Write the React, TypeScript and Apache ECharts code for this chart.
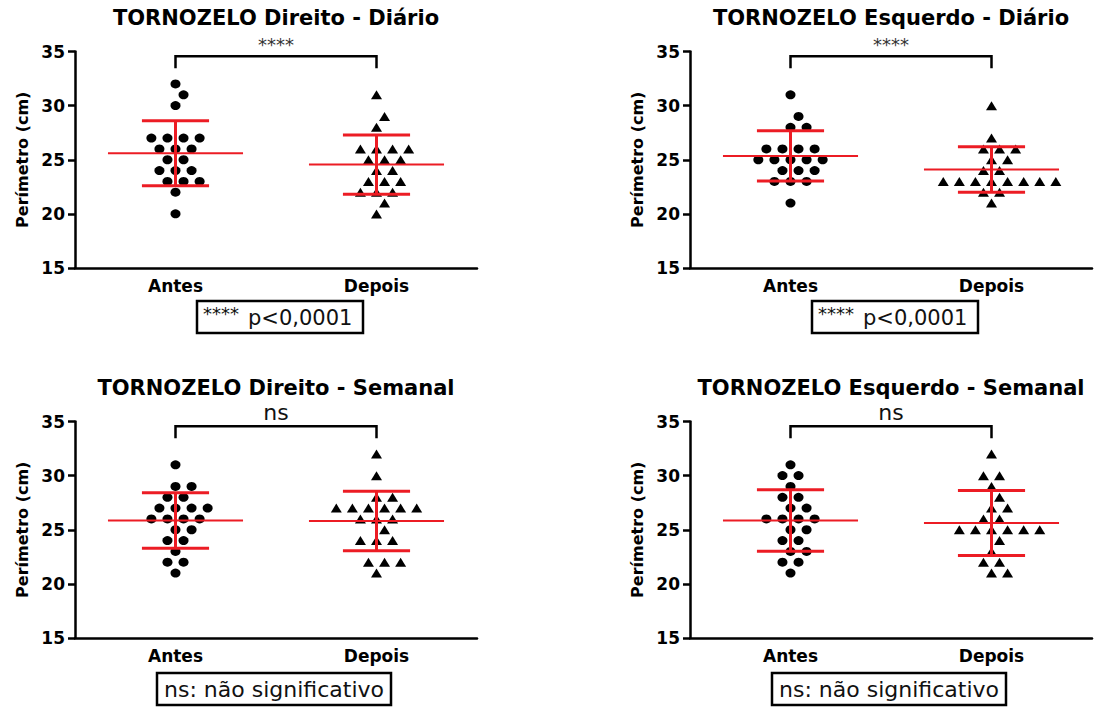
import React, { useEffect, useRef } from "react";
import * as echarts from "echarts";

// ---------- data ----------
const groups = ["Antes", "Depois"];
const yTicks = { min: 15, max: 35, step: 5 };

const direitoDiarioAntes = [32, 31, 30, 27, 27, 27, 27, 26, 26, 26, 25, 25, 24, 24, 24, 23, 23, 23, 22, 20];
const direitoDiarioDepois = [31, 29, 28, 26, 26, 26, 26, 25, 25, 25, 24, 24, 23, 23, 23, 22, 22, 22, 21, 20];
const esquerdoDiarioAntes = [31, 29, 28, 28, 26, 26, 26, 26, 25, 25, 25, 25, 25, 24, 24, 24, 23, 23, 23, 21];
const esquerdoDiarioDepois = [30, 27, 26, 26, 26, 25, 25, 24, 24, 23, 23, 23, 23, 23, 23, 23, 23, 22, 22, 21];
const direitoSemanalAntes = [31, 29, 29, 28, 28, 27, 27, 27, 27, 26, 26, 26, 26, 25, 25, 24, 24, 23, 22, 22, 21];
const direitoSemanalDepois = [32, 30, 28, 28, 27, 27, 27, 27, 27, 27, 26, 26, 26, 25, 24, 24, 24, 22, 22, 22, 21];
const esquerdoSemanalAntes = [31, 30, 30, 29, 28, 28, 27, 27, 26, 26, 26, 26, 25, 25, 24, 24, 23, 23, 22, 22, 21];
const esquerdoSemanalDepois = [32, 30, 30, 29, 28, 27, 27, 26, 26, 25, 25, 25, 25, 25, 25, 24, 23, 22, 22, 21, 21];

const titles = [
  "TORNOZELO Direito - Diário",
  "TORNOZELO Esquerdo - Diário",
  "TORNOZELO Direito - Semanal",
  "TORNOZELO Esquerdo - Semanal",
];
const statLabels = ["****", "****", "ns", "ns"];
const yAxisName = "Perímetro (cm)";
const footSig = ["****", "p<0,0001"];
const footNs = "ns: não significativo";

// ---------- layout / style ----------
const FONT = "'DejaVu Sans', 'Liberation Sans', sans-serif";
const RED = "#ec1c24";
const BLACK = "#000";
const SLOT = 0.04; // horizontal swarm step, axis units
const MEAN_HALF = 0.336;
const CAP_HALF = 0.167;
const BRACKET_TOP = 34.55;
const BRACKET_LEG = 33.45;
const GRID_W = 402;
const GRID_H = 216.5;

const panels = [
  { antes: direitoDiarioAntes, depois: direitoDiarioDepois, left: 75, top: 51.5, sig: true },
  { antes: esquerdoDiarioAntes, depois: esquerdoDiarioDepois, left: 690, top: 51.5, sig: true },
  { antes: direitoSemanalAntes, depois: direitoSemanalDepois, left: 75, top: 421.5, sig: false },
  { antes: esquerdoSemanalAntes, depois: esquerdoSemanalDepois, left: 690, top: 421.5, sig: false },
];

// beeswarm: same value needs 2 slots apart, neighbouring value needs 1 slot apart
function swarm(values: number[]): [number, number][] {
  const sorted = [...values].sort((a, b) => a - b);
  const placed: { v: number; s: number }[] = [];
  sorted.forEach((v) => {
    for (let k = 0; k < 200; k++) {
      const cand = k === 0 ? 0 : k % 2 ? (k + 1) / 2 : -k / 2;
      const ok = placed.every((p) => {
        const dv = Math.abs(p.v - v);
        if (dv === 0) return Math.abs(p.s - cand) >= 2;
        if (dv <= 1) return Math.abs(p.s - cand) >= 1;
        return true;
      });
      if (ok) {
        placed.push({ v, s: cand });
        break;
      }
    }
  });
  return placed.map((p) => [p.s, p.v]);
}

function meanSd(a: number[]): [number, number] {
  const m = a.reduce((s, v) => s + v, 0) / a.length;
  const sd = Math.sqrt(a.reduce((s, v) => s + (v - m) * (v - m), 0) / (a.length - 1));
  return [m, sd];
}

function buildOption() {
  const grid: any[] = [];
  const xAxis: any[] = [];
  const yAxis: any[] = [];
  const series: any[] = [];
  const graphic: any[] = [];
  const axisLineStyle = { color: BLACK, width: 2.5 };
  const labelStyle = { color: BLACK, fontFamily: FONT, fontWeight: "bold", fontSize: 17 };

  panels.forEach((p, i) => {
    grid.push({ left: p.left, top: p.top, width: GRID_W, height: GRID_H });
    xAxis.push({
      type: "category",
      gridIndex: i,
      data: groups,
      boundaryGap: true,
      axisLine: { lineStyle: axisLineStyle },
      axisTick: { alignWithLabel: true, length: 6, lineStyle: axisLineStyle },
      axisLabel: { ...labelStyle, margin: 9 },
      splitLine: { show: false },
    });
    xAxis.push({ type: "value", gridIndex: i, min: 0.5, max: 2.5, show: false, splitLine: { show: false } });
    yAxis.push({
      type: "value",
      gridIndex: i,
      min: yTicks.min,
      max: yTicks.max,
      interval: yTicks.step,
      name: yAxisName,
      nameLocation: "middle",
      nameRotate: 90,
      nameGap: 45,
      nameTextStyle: { color: BLACK, fontFamily: FONT, fontWeight: "bold", fontSize: 16 },
      axisLine: { show: true, lineStyle: axisLineStyle },
      axisTick: { show: true, length: 7, lineStyle: axisLineStyle },
      axisLabel: { ...labelStyle, margin: 10 },
      splitLine: { show: false },
    });

    const xi = 2 * i + 1;
    series.push({
      type: "scatter",
      xAxisIndex: xi,
      yAxisIndex: i,
      symbol: "circle",
      symbolSize: [10, 9],
      itemStyle: { color: BLACK, opacity: 1 },
      silent: true,
      z: 3,
      data: swarm(p.antes).map(([s, v]) => [1 + s * SLOT, v]),
    });
    series.push({
      type: "scatter",
      xAxisIndex: xi,
      yAxisIndex: i,
      symbol: "triangle",
      symbolSize: [11, 9],
      itemStyle: { color: BLACK, opacity: 1 },
      silent: true,
      z: 3,
      data: swarm(p.depois).map(([s, v]) => [2 + s * SLOT, v]),
    });
    const [m1, s1] = meanSd(p.antes);
    const [m2, s2] = meanSd(p.depois);
    series.push({
      type: "custom",
      xAxisIndex: xi,
      yAxisIndex: i,
      silent: true,
      z: 5,
      encode: { x: 0, y: 1 },
      data: [
        [1, m1, s1],
        [2, m2, s2],
      ],
      renderItem: (params: any, api: any) => {
        const x = api.value(0);
        const m = api.value(1);
        const s = api.value(2);
        const a = api.coord([x - MEAN_HALF, m]);
        const b = api.coord([x + MEAN_HALF, m]);
        const t = api.coord([x, m + s]);
        const u = api.coord([x, m - s]);
        const tl = api.coord([x - CAP_HALF, m + s]);
        const tr = api.coord([x + CAP_HALF, m + s]);
        const bl = api.coord([x - CAP_HALF, m - s]);
        const br = api.coord([x + CAP_HALF, m - s]);
        return {
          type: "group",
          children: [
            { type: "line", shape: { x1: a[0], y1: a[1], x2: b[0], y2: b[1] }, style: { stroke: RED, lineWidth: 2 } },
            { type: "line", shape: { x1: t[0], y1: t[1], x2: u[0], y2: u[1] }, style: { stroke: RED, lineWidth: 3 } },
            { type: "line", shape: { x1: tl[0], y1: tl[1], x2: tr[0], y2: tr[1] }, style: { stroke: RED, lineWidth: 3 } },
            { type: "line", shape: { x1: bl[0], y1: bl[1], x2: br[0], y2: br[1] }, style: { stroke: RED, lineWidth: 3 } },
          ],
        };
      },
    });
    const label = statLabels[i];
    series.push({
      type: "custom",
      xAxisIndex: xi,
      yAxisIndex: i,
      silent: true,
      clip: false,
      z: 4,
      encode: { x: 0, y: 1 },
      data: [[1.5, BRACKET_TOP]],
      renderItem: (params: any, api: any) => {
        const p1 = api.coord([1, BRACKET_LEG]);
        const p2 = api.coord([1, BRACKET_TOP]);
        const p3 = api.coord([2, BRACKET_TOP]);
        const p4 = api.coord([2, BRACKET_LEG]);
        const c = api.coord([1.5, BRACKET_TOP]);
        const isStars = label.indexOf("*") >= 0;
        return {
          type: "group",
          children: [
            {
              type: "polyline",
              shape: { points: [p1, p2, p3, p4] },
              style: { stroke: BLACK, lineWidth: 2.5, fill: "none" },
            },
            {
              type: "text",
              x: c[0],
              y: c[1] - (isStars ? 12 : 14),
              style: {
                text: label,
                align: "center",
                verticalAlign: "middle",
                fontFamily: FONT,
                fontSize: isStars ? 18 : 22,
                fill: isStars ? "#333" : "#111",
              },
            },
          ],
        };
      },
    });

    // title
    graphic.push({
      type: "text",
      x: p.left + GRID_W / 2,
      y: p.top - 33.5,
      style: {
        text: titles[i],
        align: "center",
        verticalAlign: "middle",
        fontFamily: FONT,
        fontWeight: "bold",
        fontSize: 21,
        fill: BLACK,
      },
    });
    // footnote box
    if (p.sig) {
      const bx = p.left + 122;
      const by = p.top + 249.5;
      graphic.push({
        type: "rect",
        shape: { x: bx, y: by, width: 166, height: 32 },
        style: { fill: "#fff", stroke: BLACK, lineWidth: 2.5 },
      });
      graphic.push({
        type: "text",
        x: bx + 6,
        y: by + 12,
        style: { text: footSig[0], align: "left", verticalAlign: "middle", fontFamily: FONT, fontSize: 18, fill: "#111" },
      });
      graphic.push({
        type: "text",
        x: bx + 51,
        y: by + 17,
        style: { text: footSig[1], align: "left", verticalAlign: "middle", fontFamily: FONT, fontSize: 21, fill: "#111" },
      });
    } else {
      const bx = p.left + 82;
      const by = p.top + 251.5;
      graphic.push({
        type: "rect",
        shape: { x: bx, y: by, width: 234, height: 32 },
        style: { fill: "#fff", stroke: BLACK, lineWidth: 2.5 },
      });
      graphic.push({
        type: "text",
        x: bx + 117,
        y: by + 16,
        style: { text: footNs, align: "center", verticalAlign: "middle", fontFamily: FONT, fontSize: 22, fill: "#111" },
      });
    }
  });

  return {
    animation: false,
    backgroundColor: "#fff",
    grid,
    xAxis,
    yAxis,
    series,
    graphic,
  };
}

export default function App() {
  const ref = useRef<HTMLDivElement>(null);
  useEffect(() => {
    document.body.style.margin = "0";
    const chart = echarts.init(ref.current as HTMLDivElement, null, { renderer: "svg" });
    chart.setOption(buildOption() as any);
    return () => chart.dispose();
  }, []);
  return <div ref={ref} style={{ width: 1112, height: 708, background: "#fff" }} />;
}
